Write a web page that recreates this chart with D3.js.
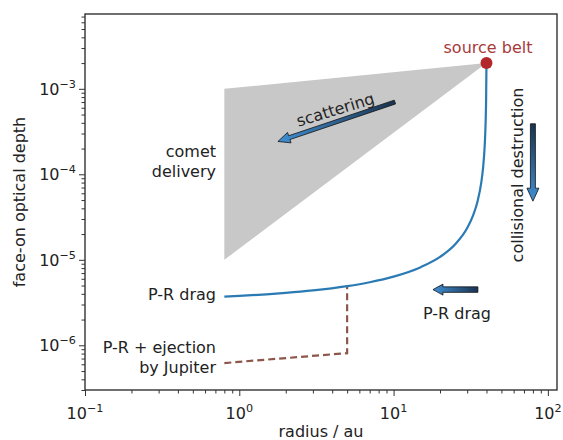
<!DOCTYPE html>
<html>
<head>
<script src="https://d3js.org/d3.v7.min.js"></script>
<style>
  body { margin: 0; background: #fff; font-family: "DejaVu Sans", sans-serif; }
  text { font-family: "DejaVu Sans", sans-serif; }
</style>
</head>
<body>
<svg id="chart" width="563" height="440"></svg>
<script>
// P-R drag profile (radius in au, face-on optical depth)
var prRadius = [0.8, 1, 1.5, 2, 3, 5, 7, 10, 15, 20, 25, 30, 33, 35, 37, 38, 39, 39.5, 39.8, 40];
var prDepth = [3.71e-6, 3.78e-6, 3.95e-6, 4.10e-6, 4.38e-6, 4.92e-6, 5.47e-6, 6.36e-6, 8.2e-6, 1.08e-5,
               1.51e-5, 2.35e-5, 3.42e-5, 4.82e-5, 8.0e-5, 1.18e-4, 2.25e-4, 4.06e-4, 7.8e-4, 2.0e-3];
// P-R + ejection by Jupiter (dashed)
var ejRadius = [0.8, 5, 5, 5];
var ejDepth = [6.2e-7, 8.1e-7, 8.1e-7, 4.92e-6];
// comet delivery region (grey triangle)
var cometRadius = [0.8, 0.8, 40];
var cometDepth = [1e-3, 1e-5, 2e-3];
// source belt
var beltRadius = 40, beltDepth = 2e-3;
// arrows: [r0, tau0, r1, tau1]
var scatterArrow = [10.2, 7.0e-4, 1.78, 2.42e-4];
var collArrow = [80, 3.9e-4, 80, 4.85e-5];
var prArrow = [35.2, 4.48e-6, 18.0, 4.48e-6];
// ticks
var xMajor = [0.1, 1, 10, 100], xExp = ["\u22121", "0", "1", "2"];
var yMajor = [1e-6, 1e-5, 1e-4, 1e-3], yExp = ["\u22126", "\u22125", "\u22124", "\u22123"];

var margin = {left: 85, top: 14, right: 6, bottom: 50};
var W = 563 - margin.left - margin.right, H = 440 - margin.top - margin.bottom;
var svg = d3.select("#chart");
var defs = svg.append("defs");
var g = svg.append("g").attr("transform", "translate(" + margin.left + "," + margin.top + ")");

var x = d3.scaleLog().domain([0.1, 114.6]).range([0, W]);
var y = d3.scaleLog().domain([3e-7, 7.5e-3]).range([H, 0]);

function minors(lo, hi) {
  var out = [];
  for (var e = -8; e <= 3; e++) for (var k = 2; k <= 9; k++) {
    var v = k * Math.pow(10, e);
    if (v >= lo && v <= hi) out.push(v);
  }
  return out;
}

// grey triangle
g.append("path")
  .attr("d", d3.line().x(function(d, i) { return x(cometRadius[i]); }).y(function(d) { return y(d); })(cometDepth) + "Z")
  .attr("fill", "#c8c8c8");

// dashed ejection line
g.append("path")
  .attr("d", d3.line().x(function(d, i) { return x(ejRadius[i]); }).y(function(d) { return y(d); })(ejDepth))
  .attr("fill", "none").attr("stroke", "#8c564b").attr("stroke-width", 2.2)
  .attr("stroke-dasharray", "7,4");

// P-R drag curve
g.append("path")
  .attr("d", d3.line().curve(d3.curveMonotoneX).x(function(d, i) { return x(prRadius[i]); }).y(function(d) { return y(d); })(prDepth))
  .attr("fill", "none").attr("stroke", "#2a7ab4").attr("stroke-width", 2.2);

// source belt
g.append("circle").attr("cx", x(beltRadius)).attr("cy", y(beltDepth)).attr("r", 6).attr("fill", "#b3262b");

// arrows, dark tail fading to blue head
function arrow(a, id, w, hw, hl) {
  var x0 = x(a[0]), y0 = y(a[1]), x1 = x(a[2]), y1 = y(a[3]);
  var len = Math.hypot(x1 - x0, y1 - y0), ux = (x1 - x0) / len, uy = (y1 - y0) / len;
  var nx = -uy, ny = ux, bx = x1 - ux * hl, by = y1 - uy * hl;
  var pts = [[x0 + nx * w / 2, y0 + ny * w / 2], [bx + nx * w / 2, by + ny * w / 2], [bx + nx * hw / 2, by + ny * hw / 2],
             [x1, y1], [bx - nx * hw / 2, by - ny * hw / 2], [bx - nx * w / 2, by - ny * w / 2], [x0 - nx * w / 2, y0 - ny * w / 2]];
  var grad = defs.append("linearGradient").attr("id", id).attr("gradientUnits", "userSpaceOnUse")
    .attr("x1", x0).attr("y1", y0).attr("x2", x1).attr("y2", y1);
  grad.append("stop").attr("offset", "0%").attr("stop-color", "#1a3350");
  grad.append("stop").attr("offset", "100%").attr("stop-color", "#3f8fd2");
  g.append("path").attr("d", "M" + pts.join("L") + "Z")
    .attr("fill", "url(#" + id + ")").attr("stroke", "#111").attr("stroke-width", 0.8);
}
arrow(scatterArrow, "gScatter", 4, 11, 12);
arrow(collArrow, "gColl", 5, 12, 13);
arrow(prArrow, "gPR", 5.5, 11, 10);

// axes
var fs = 16;
g.append("g").attr("transform", "translate(0," + H + ")")
  .call(d3.axisBottom(x).tickValues(xMajor).tickFormat("").tickSize(6).tickSizeOuter(0));
g.append("g").attr("transform", "translate(0," + H + ")")
  .call(d3.axisBottom(x).tickValues(minors(0.1, 114.6)).tickFormat("").tickSize(3.5).tickSizeOuter(0));
g.append("g").call(d3.axisLeft(y).tickValues(yMajor).tickFormat("").tickSize(6).tickSizeOuter(0));
g.append("g").call(d3.axisLeft(y).tickValues(minors(3e-7, 7.5e-3)).tickFormat("").tickSize(3.5).tickSizeOuter(0));
g.selectAll(".domain").remove();
g.selectAll(".tick line").attr("stroke", "#333").attr("stroke-width", 1);

g.append("rect").attr("width", W).attr("height", H).attr("fill", "none").attr("stroke", "#333").attr("stroke-width", 1.4);

xMajor.forEach(function(v, i) {
  var t = g.append("text").attr("x", x(v)).attr("y", H + 29).attr("text-anchor", "middle").attr("font-size", fs).attr("fill", "#222");
  t.append("tspan").text("10");
  t.append("tspan").attr("dy", -7).attr("font-size", 11.2).text(xExp[i]);
});
yMajor.forEach(function(v, i) {
  var t = g.append("text").attr("x", -9).attr("y", y(v) + 6).attr("text-anchor", "end").attr("font-size", fs).attr("fill", "#222");
  t.append("tspan").text("10");
  t.append("tspan").attr("dy", -7).attr("font-size", 11.2).text(yExp[i]);
});

svg.append("text").attr("x", margin.left + W / 2).attr("y", 437).attr("text-anchor", "middle")
  .attr("font-size", fs).attr("fill", "#222").text("radius / au");
svg.append("text").attr("transform", "translate(25," + (margin.top + H / 2) + ") rotate(-90)")
  .attr("text-anchor", "middle").attr("font-size", fs).attr("fill", "#222").text("face-on optical depth");

// annotations (svg coordinates)
function label(txt, px, py, anchor, color) {
  return svg.append("text").attr("x", px).attr("y", py).attr("text-anchor", anchor)
    .attr("font-size", fs).attr("fill", color || "#222").text(txt);
}
label("source belt", 488, 53, "middle", "#a83a3a");
label("comet", 216, 157, "end");
label("delivery", 216, 177, "end");
label("P-R drag", 216, 300, "end");
label("P-R + ejection", 216, 353, "end");
label("by Jupiter", 216, 373, "end");
label("P-R drag", 457, 319, "middle");
svg.append("text").attr("transform", "translate(337,115) rotate(-17)").attr("text-anchor", "middle")
  .attr("font-size", fs).attr("fill", "#222").text("scattering");
svg.append("text").attr("transform", "translate(523,175) rotate(-90)").attr("text-anchor", "middle")
  .attr("font-size", fs).attr("fill", "#222").text("collisional destruction");
</script>
</body>
</html>
